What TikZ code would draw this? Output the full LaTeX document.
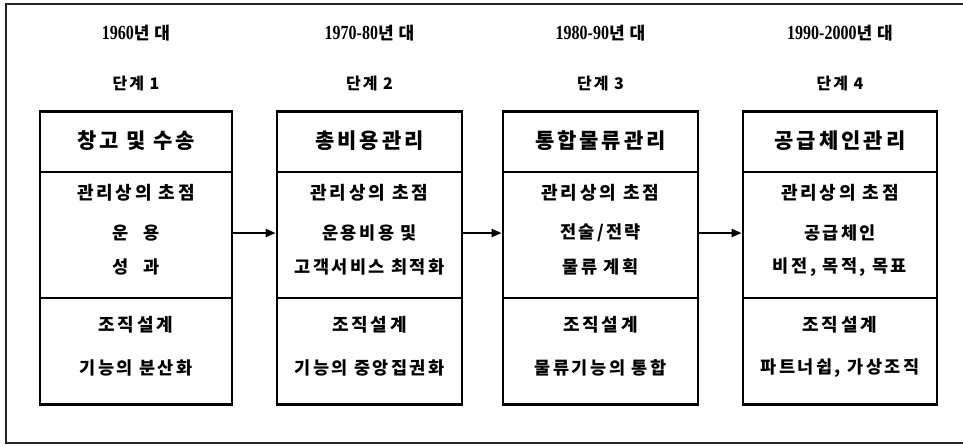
\documentclass[tikz,border=0pt]{standalone}
\usepackage{fontspec}
\newfontfamily\cjk{Noto Sans CJK KR}
\newfontfamily\yrfont[FakeStretch=0.8]{Liberation Serif}
\usetikzlibrary{arrows.meta}
\tikzset{
  box/.style={draw, line width=2.8pt, minimum width=#1, minimum height=293pt, inner sep=0pt, anchor=north},
  divider/.style={line width=2.2pt},
  arr/.style={line width=2pt, -{Triangle[length=10pt,width=8pt]}},
  frame/.style={line width=1.5pt, draw=black!85},
  yr/.style={inner sep=0pt},
  stage/.style={inner sep=0pt, font=\cjk\bfseries\fontsize{16}{18}\selectfont\addfontfeatures{LetterSpace=12}},
  ttl/.style={inner sep=0pt, font=\cjk\bfseries\fontsize{21}{23}\selectfont\addfontfeatures{LetterSpace=14}},
  head/.style={inner sep=0pt, font=\cjk\bfseries\fontsize{18}{20}\selectfont\addfontfeatures{LetterSpace=16}},
  body/.style={inner sep=0pt, font=\cjk\bfseries\fontsize{17.5}{20}\selectfont\addfontfeatures{LetterSpace=14}},
}
\newcommand\yrtxt[1]{{\yrfont\bfseries\fontsize{20}{22}\selectfont #1}{\cjk\bfseries\fontsize{17}{19}\selectfont 년\hspace{5pt}대}}
\begin{document}
\begin{tikzpicture}[x=1pt,y=-1pt]
\useasboundingbox (0,0) rectangle (963,445);
\fill[white] (0,0) rectangle (963,445);
% outer frame (open on the right)
\draw[frame] (963,4) -- (6,4) -- (6,443) -- (963,443);

% boxes
\node[box=192pt] (b1) at (136,110) {};
\node[box=185pt] (b2) at (369.5,110) {};
\node[box=195pt] (b3) at (600.5,110) {};
\node[box=194pt] (b4) at (840,110) {};

% dividers
\foreach \b in {b1,b2,b3,b4}{
  \draw[divider] (\b.west |- 0,172) -- (\b.east |- 0,172);
  \draw[divider] (\b.west |- 0,298) -- (\b.east |- 0,298);
}

% arrows
\draw[arr] (b1.east |- 0,233) -- (b2.west |- 0,233);
\draw[arr] (b2.east |- 0,233) -- (b3.west |- 0,233);
\draw[arr] (b3.east |- 0,233) -- (b4.west |- 0,233);

% years
\node[yr] (y1) at (b1.north |- 0,33) {\yrtxt{1960}};
\node[yr] (y2) at (b2.north |- 0,33) {\yrtxt{1970-80}};
\node[yr] (y3) at (b3.north |- 0,33) {\yrtxt{1980-90}};
\node[yr] (y4) at (b4.north |- 0,33) {\yrtxt{1990-2000}};

% stages
\node[stage] (s1) at (b1.north |- 0,83) {단계 1};
\node[stage] (s2) at (b2.north |- 0,83) {단계 2};
\node[stage] (s3) at (b3.north |- 0,83) {단계 3};
\node[stage] (s4) at (b4.north |- 0,83) {단계 4};

% titles
\node[ttl] (t1) at (b1.north |- 0,141) {창고 및 수송};
\node[ttl] (t2) at (b2.north |- 0,141) {총비용관리};
\node[ttl] (t3) at (b3.north |- 0,141) {통합물류관리};
\node[ttl] (t4) at (b4.north |- 0,141) {공급체인관리};

% focus headings
\foreach \b in {b1,b2,b3,b4}{
  \node[head] (\b f) at (\b.north |- 0,193) {관리상의 초점};
  \node[head] (\b o) at (\b.north |- 0,325) {조직설계};
}

% focus content
\node[body] (f1a) at (b1.north |- 0,233) {운\hspace{14pt}용};
\node[body] (f1b) at (b1.north |- 0,267) {성\hspace{14pt}과};
\node[body] (f2a) at (b2.north |- 0,233) {운용비용 및};
\node[body] (f2b) at (b2.north |- 0,267) {고객서비스 최적화};
\node[body] (f3a) at (b3.north |- 0,233) {전술/전략};
\node[body] (f3b) at (b3.north |- 0,267) {물류 계획};
\node[body] (f4a) at (b4.north |- 0,233) {공급체인};
\node[body] (f4b) at (b4.north |- 0,267) {비전, 목적, 목표};

% organisation content
\node[body] (o1) at (b1.north |- 0,368) {기능의 분산화};
\node[body] (o2) at (b2.north |- 0,368) {기능의 중앙집권화};
\node[body] (o3) at (b3.north |- 0,368) {물류기능의 통합};
\node[body] (o4) at (b4.north |- 0,368) {파트너쉽, 가상조직};
\end{tikzpicture}
\end{document}
